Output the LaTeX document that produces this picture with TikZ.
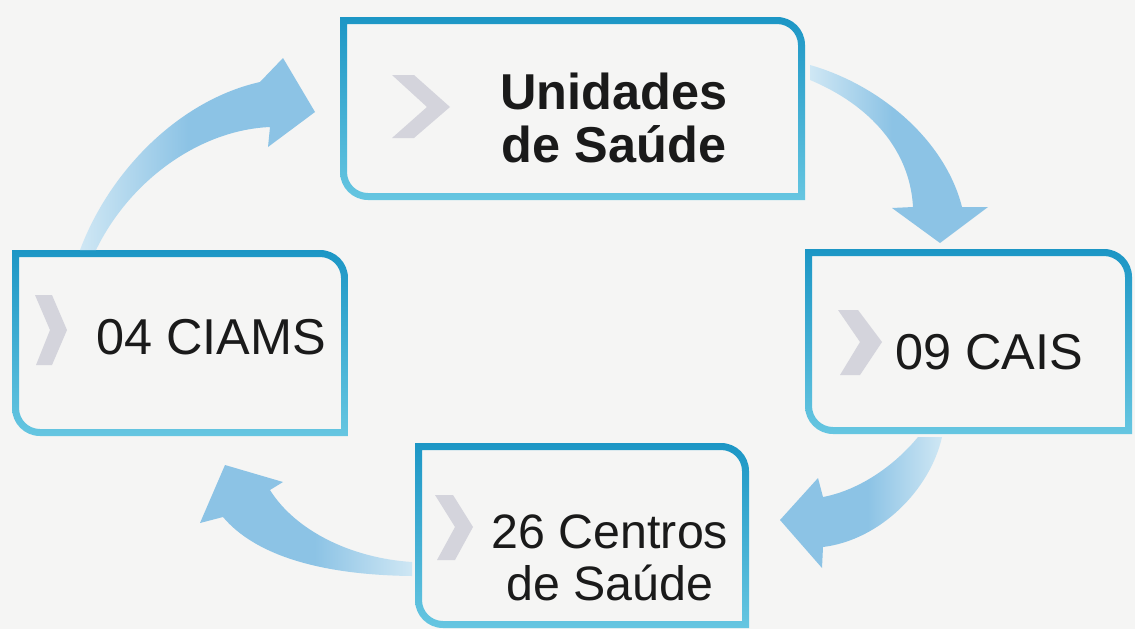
\documentclass[tikz,border=0pt]{standalone}
\usepackage{fontspec}
\setmainfont{Liberation Sans}
\usetikzlibrary{calc}
\definecolor{bg}{HTML}{F5F5F4}
\definecolor{bordtop}{HTML}{1C96C5}
\definecolor{bordbot}{HTML}{66C6E1}
\definecolor{arrowc}{HTML}{8CC3E5}
\definecolor{arrowpale}{HTML}{CFE7F4}
\definecolor{chev}{HTML}{D4D4DC}
\definecolor{txt}{HTML}{1A1A1A}
\pgfdeclarehorizontalshading{fadeR}{100bp}{color(0bp)=(arrowpale); color(25bp)=(arrowpale); color(48bp)=(arrowc); color(100bp)=(arrowc)}
\pgfdeclarehorizontalshading{fadeL}{100bp}{color(0bp)=(arrowc); color(52bp)=(arrowc); color(75bp)=(arrowpale); color(100bp)=(arrowpale)}
% frame with sharp top-left / bottom-right and rounded top-right / bottom-left corners
\newcommand\hsframe[4]{%
  \shade[top color=bordtop,bottom color=bordbot,even odd rule]
    (#1,#2) -- (#3-28,#2) arc[start angle=90,end angle=0,radius=28] -- (#3,#4)
    -- (#1+28,#4) arc[start angle=270,end angle=180,radius=28] -- cycle
    (#1+7,#2-7) -- (#3-28,#2-7) arc[start angle=90,end angle=0,radius=21] -- (#3-7,#4+7)
    -- (#1+28,#4+7) arc[start angle=270,end angle=180,radius=21] -- cycle;}
\begin{document}
\begin{tikzpicture}[x=0.02cm,y=0.02cm,
  lbl/.style={font=\fontsize{28.7}{30.2}\selectfont, text=txt, align=center, inner sep=0pt},
  chevron/.style={fill=chev},
  arrowR/.style={shading=fadeR},
  arrowL/.style={shading=fadeL}]
\fill[bg] (0,0) rectangle (1135,-629);
\useasboundingbox (0,0) rectangle (1135,-629);

% box frames
\coordinate (boxU) at (572,-108);
\coordinate (boxC) at (180,-343);
\coordinate (boxK) at (968,-341);
\coordinate (boxS) at (582,-535);
\hsframe{340}{-17}{805}{-200}
\hsframe{12}{-250}{348}{-436}
\hsframe{805}{-249}{1132}{-434}
\hsframe{415}{-443}{749}{-628}

% curved block arrows
\shade[arrowR] (80,-250) .. controls (110,-170) and (180,-100) .. (260,-82)
  -- (283,-58) -- (315,-112) -- (268,-147) -- (270,-127)
  .. controls (200,-130) and (130,-180) .. (96,-250) -- cycle;
\shade[arrowR] (810,-65) .. controls (880,-85) and (945,-140) .. (962,-207)
  -- (988,-207) -- (940,-243) -- (892,-208) -- (913,-207)
  .. controls (910,-150) and (870,-105) .. (810,-80) -- cycle;
\shade[arrowL] (918,-437) .. controls (895,-465) and (860,-490) .. (823,-497)
  -- (818,-478) -- (780,-520) -- (822,-568) -- (823,-547)
  .. controls (880,-540) and (930,-490) .. (942,-437) -- cycle;
\shade[arrowL] (412,-562) .. controls (350,-558) and (295,-530) .. (270,-490)
  -- (283,-482) -- (225,-465) -- (200,-523) -- (223,-517)
  .. controls (255,-555) and (320,-575) .. (412,-576) -- cycle;

% chevrons
\fill[chevron] (392,-75) -- (414,-75) -- (450,-107) -- (414,-138) -- (392,-138) -- (427,-107) -- cycle;
\fill[chevron] (35,-295) -- (52,-295) -- (67,-330) -- (52,-365) -- (36,-365) -- (50,-330) -- cycle;
\fill[chevron] (838,-310) -- (858,-310) -- (882,-342) -- (860,-375) -- (840,-375) -- (860,-342) -- cycle;
\fill[chevron] (435,-495) -- (453,-495) -- (473,-527) -- (455,-560) -- (437,-560) -- (455,-527) -- cycle;

% labels
\node[lbl, font=\fontsize{28.7}{30.2}\selectfont\bfseries] (unidades) at (614,-118) {Unidades\\de Saúde};
\node[lbl] (ciams) at (211,-337) {04 CIAMS};
\node[lbl] (cais) at (989,-352) {09 CAIS};
\node[lbl, font=\fontsize{27.5}{29.6}\selectfont] (centros) at (610,-558) {26 Centros\\de Saúde};
\end{tikzpicture}
\end{document}
